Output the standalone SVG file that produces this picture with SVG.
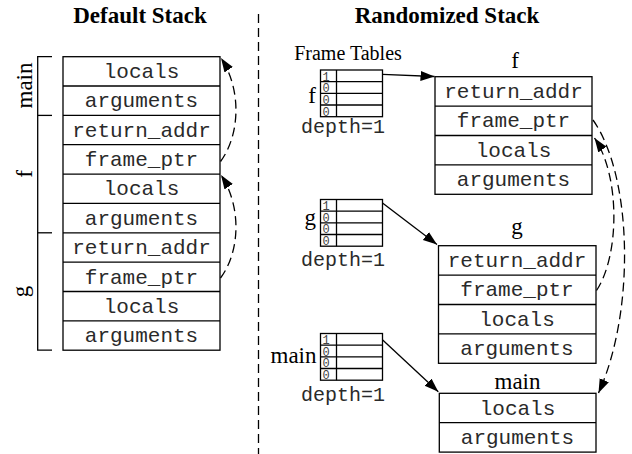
<svg xmlns="http://www.w3.org/2000/svg" width="632" height="454" viewBox="0 0 632 454">
<style>
.box{fill:#fff;stroke:#000;stroke-width:1.3}
.ln{stroke:#000;stroke-width:1.3;fill:none}
.mono{font-family:"Liberation Mono","Courier New",monospace;font-size:21px;fill:#2a2a2a;text-anchor:middle}
.serif{font-family:"Liberation Serif","Times New Roman",serif;font-size:23px;fill:#000}
.title{font-family:"Liberation Serif","Times New Roman",serif;font-size:23px;font-weight:bold;fill:#000;text-anchor:middle}
.dig{font-family:"Liberation Mono","Courier New",monospace;font-size:12px;fill:#444}
.dash{stroke:#000;stroke-width:1.3;fill:none;stroke-dasharray:9,5}
.arr{stroke:#000;stroke-width:1.3;fill:none}
</style>
<defs>
<marker id="ah" markerUnits="userSpaceOnUse" markerWidth="16" markerHeight="12" refX="14" refY="5" orient="auto">
<path d="M0,0 L14,5 L0,10 z" fill="#000" stroke="none"/>
</marker>
<g id="tbl">
<rect class="box" x="0" y="0" width="62" height="46.7"/>
<line class="ln" x1="0" y1="11.7" x2="62" y2="11.7"/>
<line class="ln" x1="0" y1="23.3" x2="62" y2="23.3"/>
<line class="ln" x1="0" y1="35" x2="62" y2="35"/>
<line class="ln" x1="16" y1="0" x2="16" y2="46.7"/>
<text class="dig" x="2" y="10.5">1</text>
<text class="dig" x="2" y="22.2">0</text>
<text class="dig" x="2" y="33.8">0</text>
<text class="dig" x="2" y="45.5">0</text>
</g>
</defs>
<rect width="632" height="454" fill="#fff"/>

<text class="title" x="140" y="23">Default Stack</text>
<text class="title" x="447" y="23">Randomized Stack</text>
<line class="dash" x1="258.5" y1="14" x2="258.5" y2="454"/>

<g id="default-stack">
<rect class="box" x="63" y="56.7" width="157" height="293.5"/>
<line class="ln" x1="63" y1="86" x2="220" y2="86"/>
<line class="ln" x1="63" y1="115.4" x2="220" y2="115.4"/>
<line class="ln" x1="63" y1="144.7" x2="220" y2="144.7"/>
<line class="ln" x1="63" y1="174.1" x2="220" y2="174.1"/>
<line class="ln" x1="63" y1="203.4" x2="220" y2="203.4"/>
<line class="ln" x1="63" y1="232.8" x2="220" y2="232.8"/>
<line class="ln" x1="63" y1="262.1" x2="220" y2="262.1"/>
<line class="ln" x1="63" y1="291.5" x2="220" y2="291.5"/>
<line class="ln" x1="63" y1="320.8" x2="220" y2="320.8"/>
<text class="mono" x="141.5" y="78">locals</text>
<text class="mono" x="141.5" y="107.4">arguments</text>
<text class="mono" x="141.5" y="136.7">return_addr</text>
<text class="mono" x="141.5" y="166.1">frame_ptr</text>
<text class="mono" x="141.5" y="195.4">locals</text>
<text class="mono" x="141.5" y="224.8">arguments</text>
<text class="mono" x="141.5" y="254.1">return_addr</text>
<text class="mono" x="141.5" y="283.5">frame_ptr</text>
<text class="mono" x="141.5" y="312.8">locals</text>
<text class="mono" x="141.5" y="342.2">arguments</text>
</g>

<g id="brackets">
<polyline class="ln" points="52,56.7 37.7,56.7 37.7,350.2 52,350.2"/>
<line class="ln" x1="37.7" y1="115.4" x2="52" y2="115.4"/>
<line class="ln" x1="37.7" y1="232.8" x2="52" y2="232.8"/>
<text class="serif" text-anchor="middle" transform="translate(32,85.5) rotate(-90)">main</text>
<text class="serif" text-anchor="middle" transform="translate(32,174) rotate(-90)">f</text>
<text class="serif" text-anchor="middle" transform="translate(28,291.5) rotate(-90)">g</text>
</g>

<g id="frame-tables">
<text class="serif" x="348" y="60" text-anchor="middle" style="font-size:20px">Frame Tables</text>
<g id="table-f">
<use href="#tbl" x="320.5" y="70"/>
<text class="serif" x="316" y="103" text-anchor="end">f</text>
<text class="mono" x="343" y="132.5" style="font-size:20px">depth=1</text>
</g>
<g id="table-g">
<use href="#tbl" x="320.5" y="199.5"/>
<text class="serif" x="316" y="225" text-anchor="end">g</text>
<text class="mono" x="343" y="266" style="font-size:20px">depth=1</text>
</g>
<g id="table-main">
<use href="#tbl" x="320.5" y="333.5"/>
<text class="serif" x="316.5" y="363" text-anchor="end">main</text>
<text class="mono" x="343" y="401" style="font-size:20px">depth=1</text>
</g>
</g>

<g id="frame-f">
<text class="serif" x="515" y="68" text-anchor="middle">f</text>
<rect class="box" x="435" y="76.7" width="157" height="117.6"/>
<line class="ln" x1="435" y1="106.1" x2="592" y2="106.1"/>
<line class="ln" x1="435" y1="135.5" x2="592" y2="135.5"/>
<line class="ln" x1="435" y1="164.9" x2="592" y2="164.9"/>
<text class="mono" x="513.5" y="98">return_addr</text>
<text class="mono" x="513.5" y="127.4">frame_ptr</text>
<text class="mono" x="513.5" y="156.8">locals</text>
<text class="mono" x="513.5" y="186.2">arguments</text>
</g>

<g id="frame-g">
<text class="serif" x="517" y="234" text-anchor="middle">g</text>
<rect class="box" x="438.5" y="245.7" width="157.5" height="117.6"/>
<line class="ln" x1="438.5" y1="275.1" x2="596" y2="275.1"/>
<line class="ln" x1="438.5" y1="304.5" x2="596" y2="304.5"/>
<line class="ln" x1="438.5" y1="333.9" x2="596" y2="333.9"/>
<text class="mono" x="517" y="267">return_addr</text>
<text class="mono" x="517" y="296.4">frame_ptr</text>
<text class="mono" x="517" y="325.8">locals</text>
<text class="mono" x="517" y="355.2">arguments</text>
</g>

<g id="frame-main">
<text class="serif" x="517.5" y="389" text-anchor="middle">main</text>
<rect class="box" x="439.3" y="393.3" width="156.7" height="58.8"/>
<line class="ln" x1="439.3" y1="422.7" x2="596" y2="422.7"/>
<text class="mono" x="517.5" y="414.6">locals</text>
<text class="mono" x="517.5" y="444">arguments</text>
</g>

<g id="connectors">
<path class="dash" d="M220.5,161.5 C240,135 242,90 221,58" marker-end="url(#ah)"/>
<path class="dash" d="M220.5,278 C240,252 242,207 221,175" marker-end="url(#ah)"/>
<path class="dash" d="M593,120 C632,175 636,310 598.5,393" marker-end="url(#ah)"/>
<path class="dash" d="M596.5,290.5 C620,255 620,175 594.5,138" marker-end="url(#ah)"/>
<path class="arr" d="M382.5,74.3 L434.5,76.5" marker-end="url(#ah)"/>
<path class="arr" d="M382.5,203 L437,244.5" marker-end="url(#ah)"/>
<path class="arr" d="M382.7,340 L438.3,391.7" marker-end="url(#ah)"/>
</g>
</svg>
